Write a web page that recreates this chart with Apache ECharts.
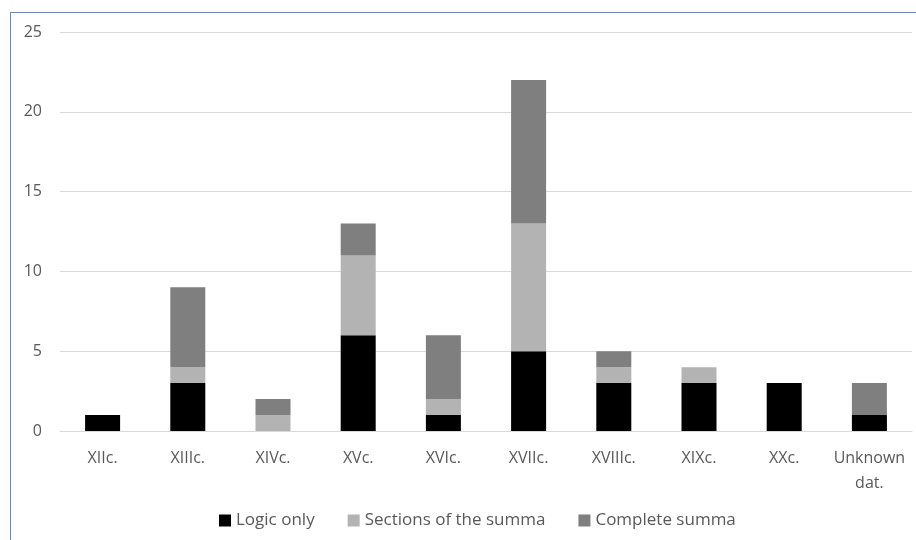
<!DOCTYPE html>
<html>
<head>
<meta charset="utf-8">
<script src="https://cdn.jsdelivr.net/npm/echarts@6/dist/echarts.min.js"></script>
<style>
  html, body { margin: 0; padding: 0; background: #ffffff; }
  #chart { width: 916px; height: 540px; }
  /* thin blue frame on top and left, like the cropped Excel chart */
  #frame {
    position: absolute; left: 10px; top: 12px; width: 906px; height: 528px;
    border-top: 1px solid #5b8ed6; border-left: 1px solid #5b8ed6;
    box-sizing: border-box; pointer-events: none;
  }
</style>
</head>
<body>
<div id="chart"></div>
<div id="frame"></div>
<script>
// categories (centuries)
var centuries = ["XIIc.", "XIIIc.", "XIVc.", "XVc.", "XVIc.", "XVIIc.", "XVIIIc.", "XIXc.", "XXc.", "Unknown\ndat."];
// series values
var logicOnly = [1, 3, 0, 6, 1, 5, 3, 3, 3, 1];
var sectionsOfSumma = [0, 1, 1, 5, 1, 8, 1, 1, 0, 0];
var completeSumma = [0, 5, 1, 2, 4, 9, 1, 0, 0, 2];

var myChart = echarts.init(document.getElementById("chart"));
var textColor = "#595959";
var fontFam = "'Open Sans', 'Liberation Sans', sans-serif";

myChart.setOption({
  animation: false,
  grid: {
    top: 32,
    left: 60,
    right: 4,
    bottom: 109
  },
  legend: {
    bottom: 6,
    left: 214,
    itemWidth: 12,
    itemHeight: 12,
    itemGap: 33,
    icon: "rect",
    textStyle: { color: textColor, fontSize: 17, fontFamily: fontFam },
    data: ["Logic only", "Sections of the summa", "Complete summa"]
  },
  xAxis: {
    type: "category",
    data: centuries,
    axisTick: { show: false },
    axisLine: { lineStyle: { color: "#d9d9d9", width: 1 } },
    axisLabel: {
      color: textColor,
      fontSize: 16,
      fontFamily: fontFam,
      margin: 15,
      lineHeight: 25,
      interval: 0
    }
  },
  yAxis: {
    type: "value",
    min: 0,
    max: 25,
    interval: 5,
    axisLine: { show: false },
    axisTick: { show: false },
    axisLabel: { color: textColor, fontSize: 16, fontFamily: fontFam, margin: 18 },
    splitLine: { lineStyle: { color: "#d9d9d9", width: 1 } }
  },
  series: [
    {
      name: "Logic only",
      type: "bar",
      stack: "total",
      barWidth: 35,
      data: logicOnly,
      itemStyle: { color: "#000000" }
    },
    {
      name: "Sections of the summa",
      type: "bar",
      stack: "total",
      barWidth: 35,
      data: sectionsOfSumma,
      itemStyle: { color: "#b3b3b3" }
    },
    {
      name: "Complete summa",
      type: "bar",
      stack: "total",
      barWidth: 35,
      data: completeSumma,
      itemStyle: { color: "#7f7f7f" }
    }
  ]
});
</script>
</body>
</html>
